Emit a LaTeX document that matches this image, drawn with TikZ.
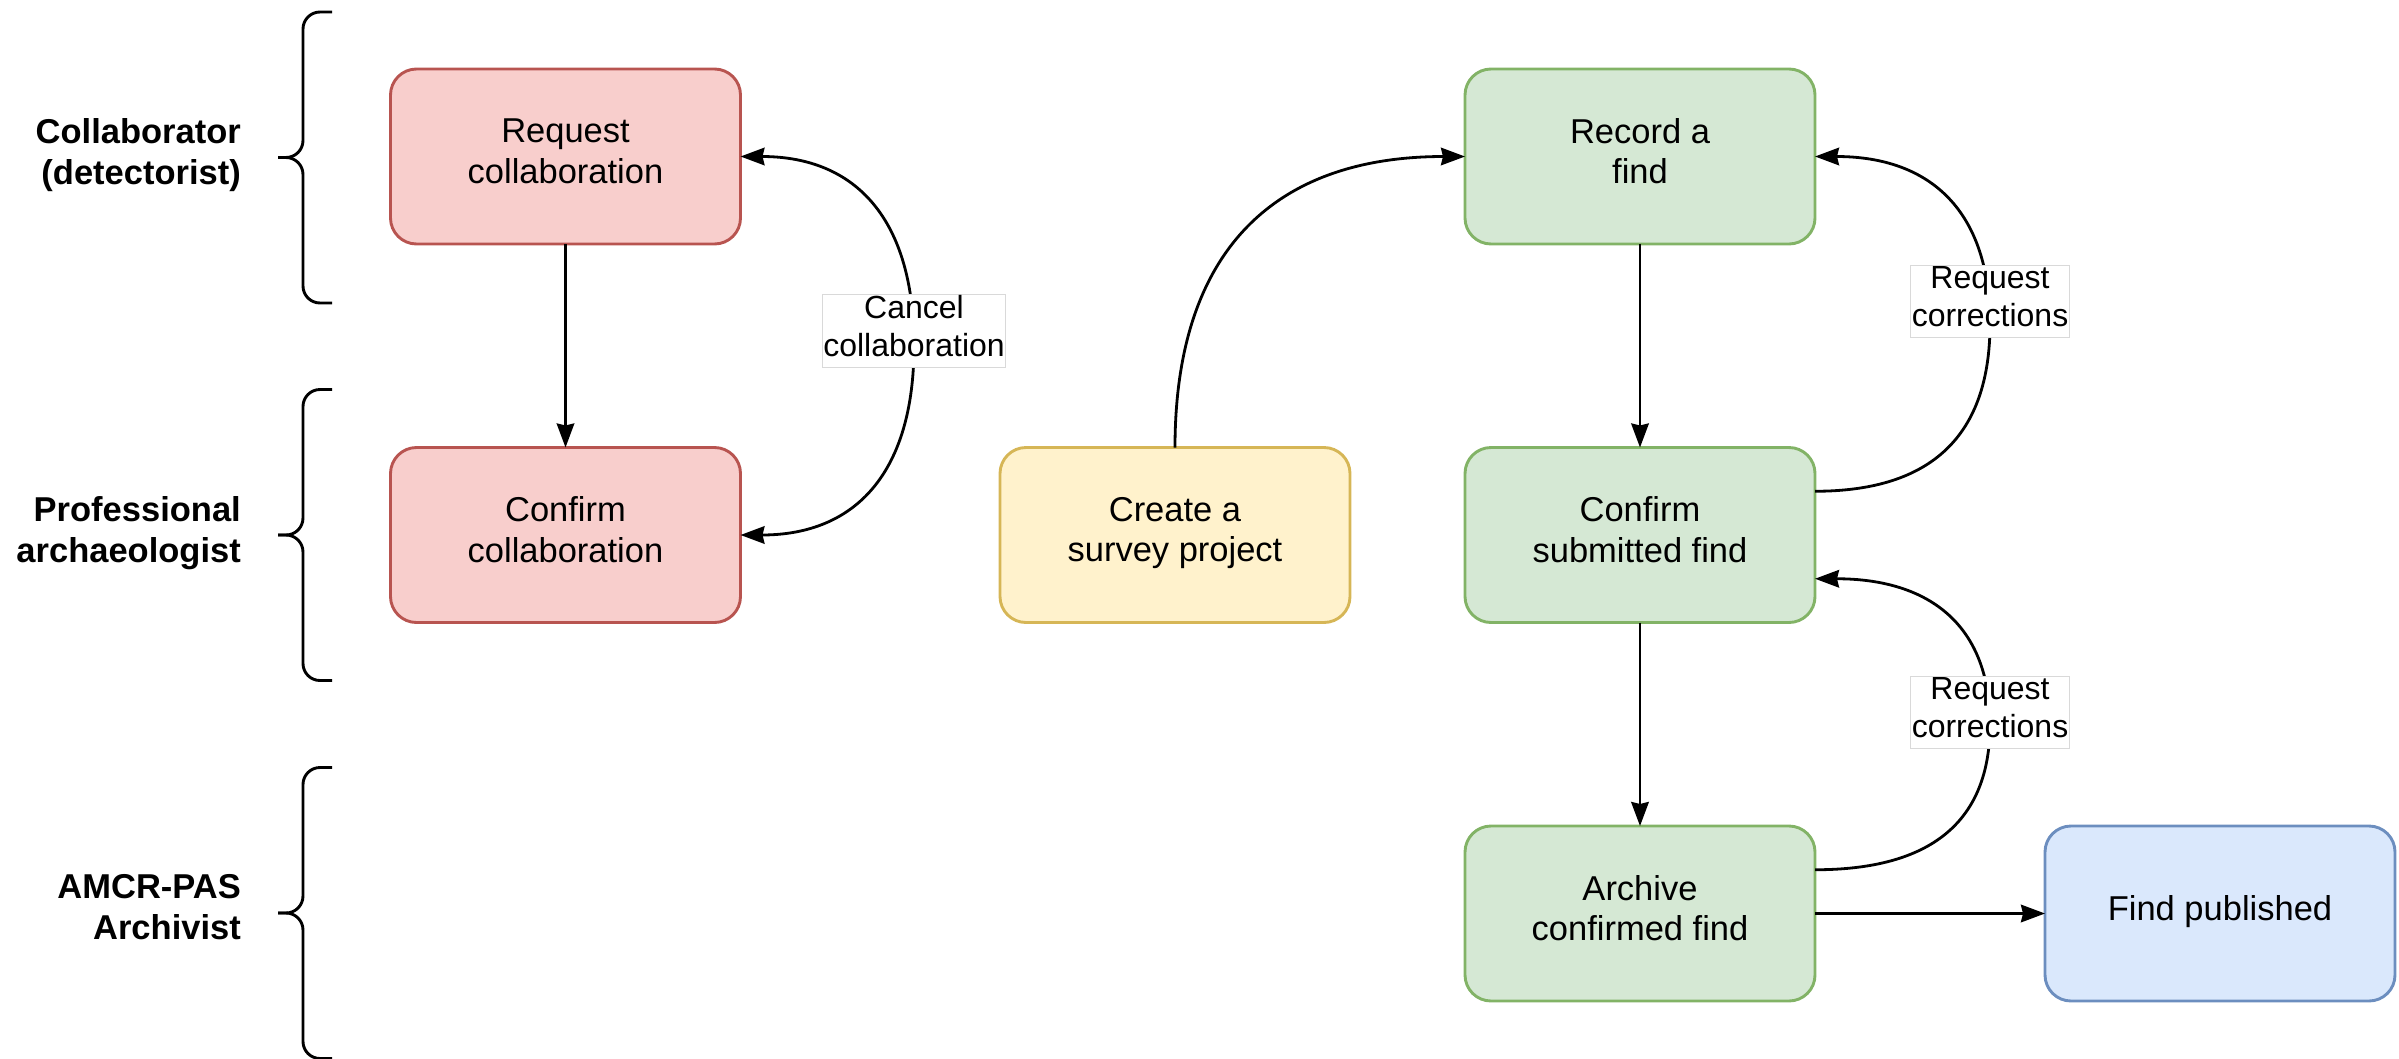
\documentclass[tikz,border=0pt]{standalone}
\usepackage{fontspec}
\setmainfont{Liberation Sans}
\usetikzlibrary{arrows.meta,calc}
\definecolor{redF}{HTML}{F8CECC}\definecolor{redD}{HTML}{B85450}
\definecolor{grnF}{HTML}{D5E8D4}\definecolor{grnD}{HTML}{82B366}
\definecolor{yelF}{HTML}{FFF2CC}\definecolor{yelD}{HTML}{D6B656}
\definecolor{bluF}{HTML}{DAE8FC}\definecolor{bluD}{HTML}{6C8EBF}
\newcommand\boxstrut{\rule[-11.2pt]{0pt}{37.2pt}}
\newcommand\lblstrut{\rule[-10pt]{0pt}{38pt}}
\tikzset{
  box/.style={rectangle, rounded corners=26pt, minimum width=350pt, minimum height=175pt,
    line width=2.9pt, align=center, font=\fontsize{34.5}{40.5}\selectfont, outer sep=0pt, inner sep=0pt,
    execute at begin node=\boxstrut, execute at end node=\boxstrut},
  redbox/.style={box, fill=redF, draw=redD},
  grnbox/.style={box, fill=grnF, draw=grnD},
  yelbox/.style={box, fill=yelF, draw=yelD},
  blubox/.style={box, fill=bluF, draw=bluD},
  tipA/.tip={Stealth[length=24pt,width=17.5pt,inset=2pt]},
  conn/.style={line width=2.8pt, -tipA},
  lbl/.style={fill=white, draw=black!15, line width=1pt, align=center,
    font=\fontsize{32}{38}\selectfont, inner xsep=1pt, inner ysep=1pt,
    execute at begin node=\lblstrut, execute at end node=\lblstrut},
  side/.style={align=right, font=\bfseries\fontsize{34.5}{41}\selectfont, anchor=east, inner sep=0pt,
    execute at begin node=\rule[-12pt]{0pt}{38pt}, execute at end node=\rule[-12pt]{0pt}{38pt}},
  lanebrace/.pic={
    \draw[line width=2.9pt, rounded corners=17pt] (54,-145.5) -- (25,-145.5) -- (25,0) -- (0,0);
    \draw[line width=2.9pt, rounded corners=17pt] (0,0) -- (25,0) -- (25,145.5) -- (54,145.5);
  }
}
\begin{document}
\begin{tikzpicture}[x=1pt,y=-1pt]
\useasboundingbox (0,0) rectangle (2399,1058);

% lanes
\pic at (278,157.5) {lanebrace};
\pic at (278,535) {lanebrace};
\pic at (278,913) {lanebrace};
\node[side] (lane1) at (241,157) {Collaborator\\(detectorist)};
\node[side] (lane2) at (241,535) {Professional\\archaeologist};
\node[side] (lane3) at (241,913) {AMCR-PAS\\Archivist};

% nodes
\node[redbox] (req)    at (565.5,156.5) {Request\\collaboration};
\node[redbox] (ccol)   at (565.5,535)   {Confirm\\collaboration};
\node[yelbox] (survey) at (1175,535)    {Create a\\survey project};
\node[grnbox] (rec)    at (1640,156.5)  {Record a\\find};
\node[grnbox] (csf)    at (1640,535)    {Confirm\\submitted find};
\node[grnbox] (arch)   at (1640,913.5)  {Archive\\confirmed find};
\node[blubox] (pub)    at (2220,913.5)  {Find published};

% straight connectors
\draw[conn] (req) -- (ccol);
\draw[conn] (rec) -- (csf);
\draw[conn] (csf) -- (arch);
\draw[conn] (arch.east) -- (arch.east -| pub.west);

% create survey -> record
\coordinate (sC) at (survey.north |- rec.west);
\draw[conn] (survey.north) .. controls ($(survey.north)!2/3!(sC)$) and ($(rec.west)!2/3!(sC)$) .. (rec.west);

% cancel collaboration
\path (req.east) ++(173.5,0) coordinate (cA);
\path (ccol.east) ++(173.5,0) coordinate (cB);
\coordinate (cM) at ($(cA)!0.5!(cB)$);
\draw[line width=2.8pt, tipA-tipA] (req.east) .. controls ($(req.east)!2/3!(cA)$) and ($(cM)!2/3!(cA)$) .. (cM)
  .. controls ($(cM)!2/3!(cB)$) and ($(ccol.east)!2/3!(cB)$) .. (ccol.east);
\node[lbl] (lcancel) at ($(cM)+(0,-15)$) {Cancel\\collaboration};

% request corrections 1
\coordinate (r1s) at ($(csf.north east)!0.25!(csf.south east)$);
\path (r1s) ++(175,0) coordinate (r1a);
\path (rec.east) ++(175,0) coordinate (r1b);
\coordinate (r1m) at ($(r1a)!0.5!(r1b)$);
\draw[conn] (r1s) .. controls ($(r1s)!2/3!(r1a)$) and ($(r1m)!2/3!(r1a)$) .. (r1m)
  .. controls ($(r1m)!2/3!(r1b)$) and ($(rec.east)!2/3!(r1b)$) .. (rec.east);
\node[lbl] (lcorr1) at ($(r1m)+(0,-22)$) {Request\\corrections};

% request corrections 2
\coordinate (r2s) at ($(arch.north east)!0.25!(arch.south east)$);
\coordinate (r2e) at ($(csf.north east)!0.75!(csf.south east)$);
\path (r2s) ++(175,0) coordinate (r2a);
\path (r2e) ++(175,0) coordinate (r2b);
\coordinate (r2m) at ($(r2a)!0.5!(r2b)$);
\draw[conn] (r2s) .. controls ($(r2s)!2/3!(r2a)$) and ($(r2m)!2/3!(r2a)$) .. (r2m)
  .. controls ($(r2m)!2/3!(r2b)$) and ($(r2e)!2/3!(r2b)$) .. (r2e);
\node[lbl] (lcorr2) at ($(r2m)+(0,-12)$) {Request\\corrections};
\end{tikzpicture}
\end{document}
